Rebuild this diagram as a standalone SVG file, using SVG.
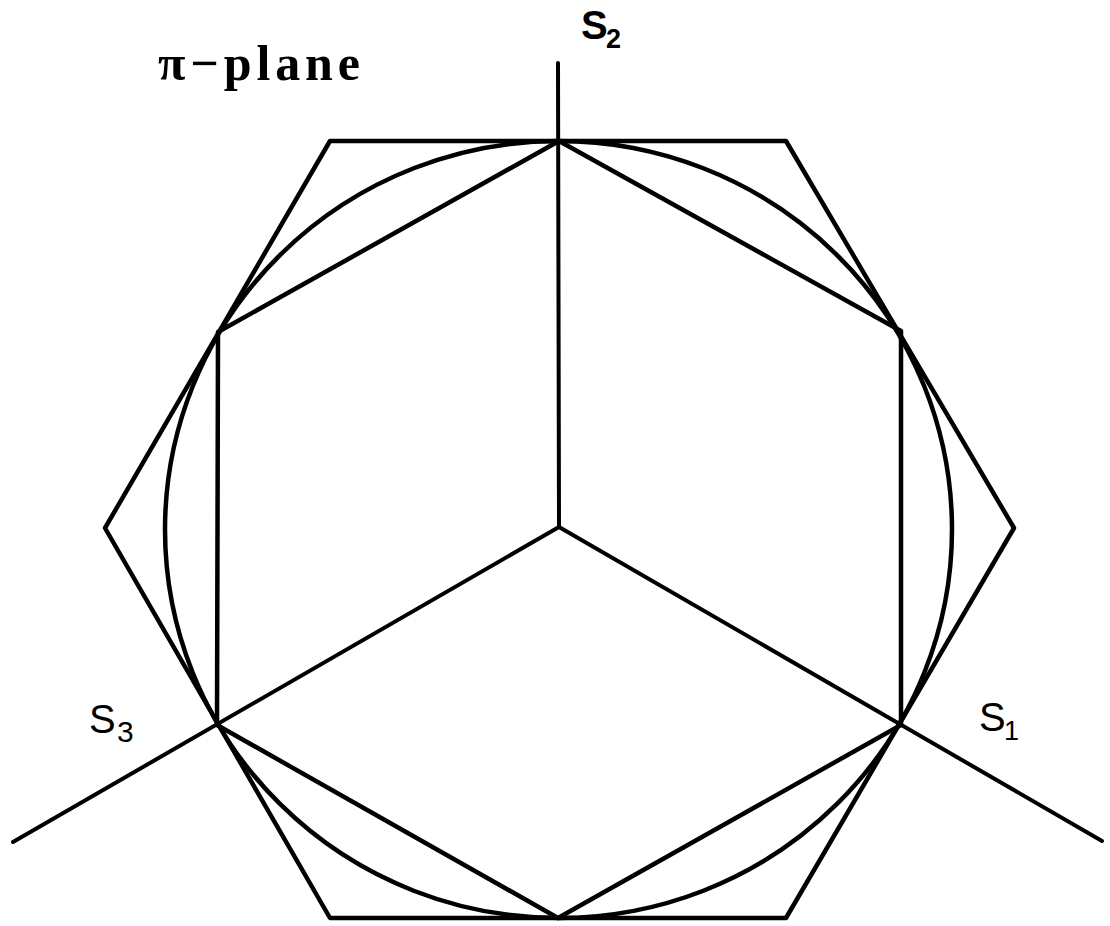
<svg xmlns="http://www.w3.org/2000/svg" width="1110" height="926" viewBox="0 0 1110 926">
<style>
.ln{fill:none;stroke:#000;stroke-width:4.5;stroke-linejoin:round;stroke-linecap:round}
.ax{fill:none;stroke:#000;stroke-width:4;stroke-linecap:round}
.lbl{font-family:"Liberation Sans",Arial,sans-serif;fill:#000}
.ttl{font-family:"Liberation Serif","Times New Roman",serif;font-weight:bold;fill:#000}
</style>
<rect width="1110" height="926" fill="#fff"/>
<g id="circle">
<ellipse class="ln" cx="558.5" cy="529.5" rx="393.5" ry="388.5"/>
</g>
<g id="outer-hexagon">
<polygon class="ln" points="330,141 786,141 1014,528 786,918 330,918 105,528"/>
</g>
<g id="inner-hexagon">
<polygon class="ln" points="559,141 901,331 901,725 558,918 217,725 218,332"/>
</g>
<g id="axes">
<line class="ax" x1="559" y1="527" x2="558" y2="63"/>
<line class="ax" x1="559" y1="527" x2="1102" y2="841"/>
<line class="ax" x1="559" y1="527" x2="13" y2="842"/>
</g>
<g id="labels">
<text class="ttl" x="158" y="80" font-size="50" textLength="202" lengthAdjust="spacing">π−plane</text>
<text class="lbl" x="581" y="39" font-size="40" font-weight="bold">S</text>
<text class="lbl" x="606" y="48" font-size="27" font-weight="bold">2</text>
<text class="lbl" x="979" y="731" font-size="40">S</text>
<text class="lbl" x="1004" y="740" font-size="27">1</text>
<text class="lbl" x="89" y="733" font-size="40">S</text>
<text class="lbl" x="117" y="742" font-size="30">3</text>
</g>
</svg>
